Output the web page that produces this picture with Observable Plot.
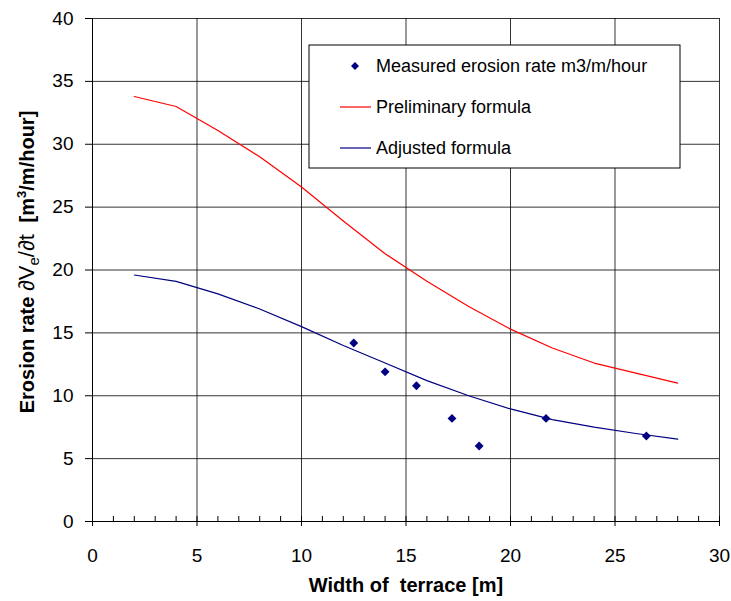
<!DOCTYPE html>
<html>
<head>
<meta charset="utf-8">
<script src="https://cdn.jsdelivr.net/npm/d3@7"></script>
<script src="https://cdn.jsdelivr.net/npm/@observablehq/plot@0.6"></script>
<style>
  html, body { margin: 0; padding: 0; background: #fff; }
  #chart svg { display: block; }
</style>
</head>
<body>
<div id="chart"></div>
<script>
// ---- data ----
const widthX = [2, 4, 6, 8, 10, 12, 14, 16, 18, 20, 22, 24, 26, 28];
const preliminary = [33.8, 33.0, 31.1, 29.0, 26.6, 23.9, 21.3, 19.1, 17.1, 15.3, 13.8, 12.6, 11.8, 11.0];
const adjusted = [19.6, 19.1, 18.1, 16.9, 15.5, 14.0, 12.6, 11.2, 10.0, 8.95, 8.1, 7.5, 7.0, 6.55];
const measuredX = [12.5, 14.0, 15.5, 17.2, 18.5, 21.7, 26.5];
const measuredY = [14.2, 11.9, 10.8, 8.2, 6.0, 8.2, 6.8];
const xTicks = [0, 5, 10, 15, 20, 25, 30];
const xMinor = d3.range(0, 31, 1);
const yTicks = [0, 5, 10, 15, 20, 25, 30, 35, 40];
const legendLabels = ["Measured erosion rate m3/m/hour", "Preliminary formula", "Adjusted formula"];

const prelimData = widthX.map((x, i) => ({x, y: preliminary[i]}));
const adjData = widthX.map((x, i) => ({x, y: adjusted[i]}));
const measData = measuredX.map((x, i) => ({x, y: measuredY[i]}));

const RED = "#ff0000", NAVY = "#000080";
const FONT = "'Liberation Sans', Arial, sans-serif";

const chart = Plot.plot({
  width: 731,
  height: 601,
  marginLeft: 92,
  marginRight: 12,
  marginTop: 18,
  marginBottom: 80,
  style: {fontFamily: FONT, fontSize: "19px", color: "#000", background: "#fff"},
  x: {domain: [0, 30]},
  y: {domain: [0, 40]},
  marks: [
    Plot.gridX(xTicks, {stroke: "#000", strokeOpacity: 0.8, strokeWidth: 1}),
    Plot.gridY(yTicks, {stroke: "#000", strokeOpacity: 0.8, strokeWidth: 1}),
    Plot.ruleX(xMinor, {y1: 0, y2: 0.4, stroke: "#000"}),
    Plot.axisX(xTicks, {tickSize: 5, tickPadding: 22, label: null, stroke: "#000", fontSize: 19}),
    Plot.axisY(yTicks, {tickSize: 7, tickPadding: 12, label: null, stroke: "#000", fontSize: 19}),
    Plot.ruleX([0], {stroke: "#000"}),
    Plot.ruleY([0], {stroke: "#000"}),
    Plot.line(prelimData, {x: "x", y: "y", stroke: RED, strokeWidth: 1.2}),
    Plot.line(adjData, {x: "x", y: "y", stroke: NAVY, strokeWidth: 1.2}),
    Plot.dot(measData, {x: "x", y: "y", symbol: "diamond2", r: 4, fill: NAVY, stroke: "none"})
  ]
});
document.getElementById("chart").appendChild(chart);

// ---- titles & legend ----
const svg = d3.select(chart);

svg.append("text")
  .attr("x", 406).attr("y", 592)
  .attr("text-anchor", "middle")
  .attr("font-family", FONT).attr("font-size", 20).attr("font-weight", "bold")
  .attr("fill", "#000")
  .attr("xml:space", "preserve")
  .text("Width of  terrace [m]");

const yl = svg.append("text")
  .attr("transform", "translate(34,262) rotate(-90)")
  .attr("text-anchor", "middle")
  .attr("font-family", FONT).attr("font-size", 20)
  .attr("fill", "#000")
  .attr("xml:space", "preserve");
yl.append("tspan").attr("font-weight", "bold").text("Erosion rate ");
yl.append("tspan").attr("font-size", 22).text("∂V");
yl.append("tspan").attr("font-size", 15).attr("dy", 5).text("e");
yl.append("tspan").attr("font-size", 22).attr("dy", -5).text("/∂t ");
yl.append("tspan").attr("font-weight", "bold").text(" [m");
yl.append("tspan").attr("font-weight", "bold").attr("font-size", 13).attr("dy", -8).text("3");
yl.append("tspan").attr("font-weight", "bold").attr("dy", 8).text("/m/hour]");

const lg = svg.append("g");
lg.append("rect")
  .attr("x", 309).attr("y", 45).attr("width", 371).attr("height", 123)
  .attr("fill", "#fff").attr("stroke", "#000").attr("stroke-width", 1);
const rowsY = [66, 107, 148];
lg.append("path")
  .attr("d", d3.symbol(d3.symbolSquare, 32)())
  .attr("transform", `translate(355,${rowsY[0]}) rotate(45)`)
  .attr("fill", NAVY);
lg.append("line").attr("x1", 340).attr("x2", 371).attr("y1", rowsY[1]).attr("y2", rowsY[1])
  .attr("stroke", RED).attr("stroke-width", 1.2);
lg.append("line").attr("x1", 340).attr("x2", 371).attr("y1", rowsY[2]).attr("y2", rowsY[2])
  .attr("stroke", NAVY).attr("stroke-width", 1.2);
legendLabels.forEach((t, i) => {
  lg.append("text")
    .attr("x", 376).attr("y", rowsY[i]).attr("dy", "0.35em")
    .attr("text-anchor", "start")
    .attr("font-family", FONT).attr("font-size", 18).attr("fill", "#000")
    .text(t);
});
</script>
</body>
</html>
